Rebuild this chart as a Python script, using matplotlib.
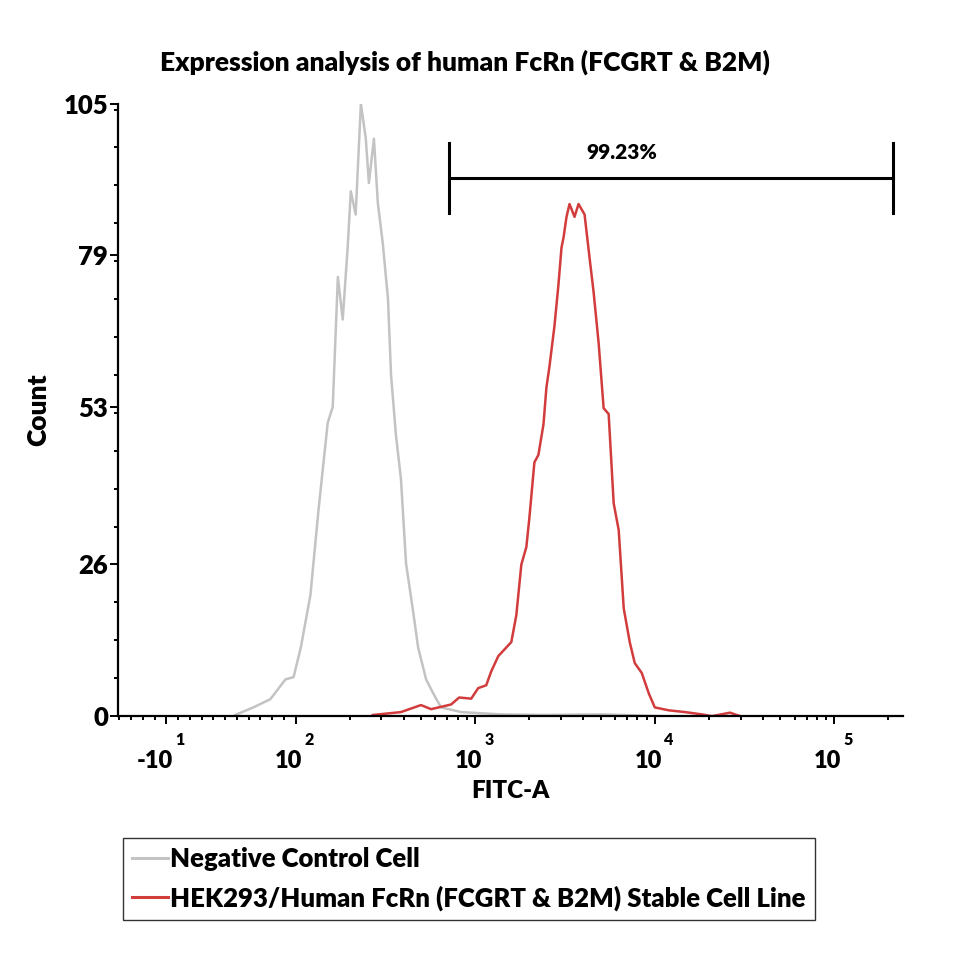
import matplotlib
matplotlib.use("Agg")
import matplotlib.pyplot as plt
from matplotlib.ticker import FixedLocator, AutoMinorLocator, NullFormatter

plt.rcParams.update({
    "font.family": ["Lato", "DejaVu Sans"],
    "font.weight": "heavy",
    "axes.linewidth": 1.6,
})

# ---- data ----
gray_fitc = [48.6, 64, 78.5, 91.4, 98.3, 107, 121, 134, 151, 161,
             167, 172, 183, 195, 203, 216, 231, 246, 256, 273,
             287, 306, 327, 340, 362, 386, 412, 451, 481, 533,
             591, 646, 836, 1396, 2337, 5058, 10940]
gray_count = [0.2, 1.5, 2.9, 6.3, 6.7, 11.8, 20.8, 35.2, 50.3, 53,
              65.4, 75.3, 68, 80.4, 90, 86, 105, 99, 91.4, 99,
              88, 81, 71.5, 58.5, 48.2, 40.7, 26.2, 18, 11.8, 6.3,
              3.6, 1.5, 0.7, 0.3, 0.2, 0.3, 0]

red_fitc = [269, 386, 499, 568, 734, 814, 950, 1039, 1152, 1229,
            1345, 1589, 1694, 1807, 1927, 2003, 2136, 2249, 2399, 2493,
            2590, 2763, 2908, 3023, 3101, 3224, 3351, 3573, 3762, 4064,
            4335, 4563, 4866, 5189, 5534, 5902, 6295, 6713, 7251, 7733,
            8461, 9258, 10000, 11970, 14720, 18310, 20800, 26240, 29860]
red_count = [0.2, 0.7, 1.9, 1.2, 2.0, 3.2, 3.0, 4.8, 5.3, 7.7,
             10.3, 12.7, 17.3, 26, 29, 34, 43.5, 44.8, 50, 56.4,
             59.9, 66.9, 74, 80.3, 82, 85.6, 87.8, 85.6, 87.8, 86,
             78.5, 72.7, 64, 52.8, 51.8, 36.5, 31.9, 18.5, 12.7, 9.1,
             7.4, 3.9, 1.5, 1.0, 0.7, 0.3, 0, 0.6, 0]

labels = ["Negative Control Cell",
          "HEK293/Human FcRn (FCGRT & B2M) Stable Cell Line"]

y_ticks = [0, 26, 53, 79, 105]
x_ticks = [-10, 100, 1000, 10000, 100000]
x_base = ["-10", "10", "10", "10", "10"]
x_exp = ["1", "2", "3", "4", "5"]

gate = (716, 211000)
gate_y = 92.3
gate_text = "99.23%"

GRAY = "#c3c3c3"
RED = "#d23c3c"
W = "heavy"

fig = plt.figure(figsize=(9.6, 9.6), dpi=100)
ax = fig.add_axes([0.123, 0.254, 0.818, 0.638])

ax.plot(gray_fitc, gray_count, color=GRAY, lw=1.8, label=labels[0])
ax.plot(red_fitc, red_count, color=RED, lw=1.8, label=labels[1])

ax.set_xscale("symlog", linthresh=100, linscale=0.589)
ax.set_xlim(-51, 242000)
ax.set_ylim(0, 105)

# y axis
ax.set_yticks(y_ticks)
ax.yaxis.set_minor_locator(AutoMinorLocator(4))
ax.tick_params(axis="y", which="major", length=6, width=1.4, labelsize=18.5, pad=1)
ax.tick_params(axis="y", which="minor", length=3, width=1.4)
for t in ax.get_yticklabels():
    t.set_fontweight(W)
ax.set_ylabel("Count", fontsize=19, fontweight=W, labelpad=10)

# x axis
minors = [v for v in range(-50, 100, 10) if v != -10]
for k in (2, 3, 4, 5):
    minors += [m * 10 ** k for m in range(2, 10)]
ax.xaxis.set_major_locator(FixedLocator(x_ticks))
ax.xaxis.set_minor_locator(FixedLocator(minors))
ax.xaxis.set_major_formatter(NullFormatter())
ax.xaxis.set_minor_formatter(NullFormatter())
ax.tick_params(axis="x", which="major", length=6, width=1.4)
ax.tick_params(axis="x", which="minor", length=3, width=1.4)

for v, b, e in zip(x_ticks, x_base, x_exp):
    ax.annotate(b, xy=(v, 0), xycoords=("data", "axes fraction"),
                xytext=(5, -37.5), textcoords="offset points",
                ha="right", va="baseline", fontsize=17, fontweight=W)
    ax.annotate(e, xy=(v, 0), xycoords=("data", "axes fraction"),
                xytext=(6.5, -21), textcoords="offset points",
                ha="left", va="baseline", fontsize=11.5, fontweight=W)

ax.text(0.5, -0.122, "FITC-A", transform=ax.transAxes, ha="center",
        va="center", fontsize=17.5, fontweight=W)

for side in ("top", "right"):
    ax.spines[side].set_visible(False)

# gate marker
ax.plot(gate, [gate_y, gate_y], color="black", lw=2.2)
for g in gate:
    ax.plot([g, g], [gate_y - 6, gate_y + 6], color="black", lw=2.2)
ax.text(6550, 96.7, gate_text, ha="center", va="center",
        fontsize=15, fontweight=W)

fig.text(0.484, 0.935, "Expression analysis of human FcRn (FCGRT & B2M)",
         ha="center", va="center", fontsize=19, fontweight=W)

leg = ax.legend(loc="upper left", bbox_to_anchor=(0.128, 0.127),
                bbox_transform=fig.transFigure, frameon=True,
                fancybox=False, edgecolor="black", fontsize=18.5,
                handlelength=1.4, handletextpad=0.1, borderpad=0.35,
                borderaxespad=0, labelspacing=0.55)
leg.get_frame().set_linewidth(1.0)
for t in leg.get_texts():
    t.set_fontweight(W)
for h in leg.get_lines():
    h.set_linewidth(2.2)

fig.savefig("out.png", dpi=100)
